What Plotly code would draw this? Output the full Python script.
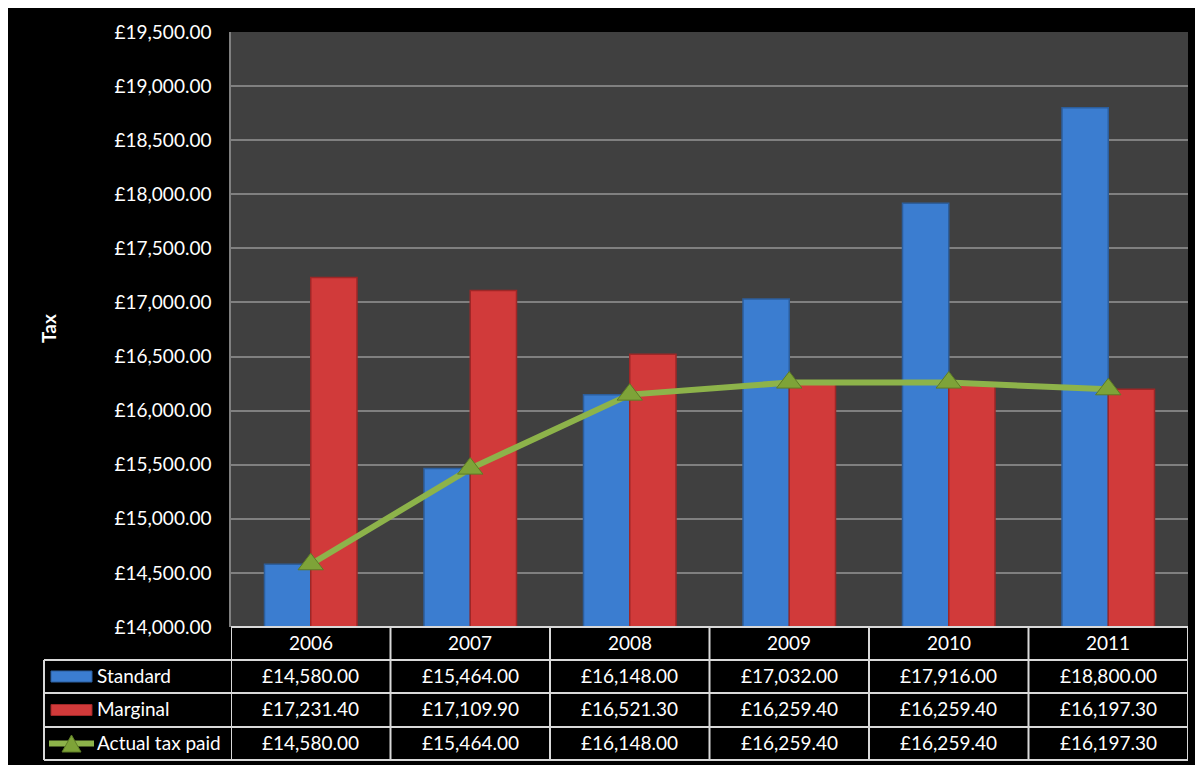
import plotly.graph_objects as go

years = ["2006", "2007", "2008", "2009", "2010", "2011"]
standard = [14580.00, 15464.00, 16148.00, 17032.00, 17916.00, 18800.00]
marginal = [17231.40, 17109.90, 16521.30, 16259.40, 16259.40, 16197.30]
actual = [14580.00, 15464.00, 16148.00, 16259.40, 16259.40, 16197.30]
series_names = ["Standard", "Marginal", "Actual tax paid"]
y_title = "Tax"

W, H = 1203, 765
OFF = 7  # page offset of the figure inside the browser window
SL, SR, ST, SB = 230, 1187, 31, 626
L, R, T, B = SL - OFF, SR - OFF, ST - OFF, SB - OFF
PW, PH = R - L, B - T


def px(x):
    return (x - OFF - L) / PW


def py(y):
    return (B - (y - OFF)) / PH


BLUE = "#3b7dd0"
BLUE_EDGE = "#2c5e9c"
RED = "#d13a3a"
RED_EDGE = "#9e2727"
GREEN = "#8db34a"
GREEN_MK = "#7ea338"
FONT = "Lato"

fig = go.Figure()
fig.add_trace(go.Bar(x=years, y=standard, name=series_names[0],
                     marker=dict(color=BLUE, line=dict(color=BLUE_EDGE, width=1.5))))
fig.add_trace(go.Bar(x=years, y=marginal, name=series_names[1],
                     marker=dict(color=RED, line=dict(color=RED_EDGE, width=1.5))))
fig.add_trace(go.Scatter(x=years, y=actual, name=series_names[2], mode="lines+markers",
                         line=dict(color=GREEN, width=6),
                         marker=dict(symbol="triangle-up", size=22, color=GREEN_MK,
                                     line=dict(color="#5e7c26", width=1))))

shapes = []
annotations = []

TL = "#d9d9d9"
row_y = [626, 659, 692, 726, 759]
shapes.append(dict(type="line", xref="paper", yref="paper", x0=px(SL), x1=px(SR), y0=py(626), y1=py(626),
                   line=dict(color=TL, width=2)))
for yy in row_y[1:]:
    shapes.append(dict(type="line", xref="paper", yref="paper", x0=px(43), x1=px(SR), y0=py(yy), y1=py(yy),
                       line=dict(color=TL, width=2)))
shapes.append(dict(type="line", xref="paper", yref="paper", x0=px(43), x1=px(43), y0=py(659), y1=py(759),
                   line=dict(color=TL, width=2)))
for i in range(len(years) + 1):
    shapes.append(dict(type="line", xref="x", yref="paper", x0=i - 0.5, x1=i - 0.5, y0=py(626), y1=py(759),
                       line=dict(color=TL, width=2)))

TF = dict(family=FONT, size=19, color="white")
for i, yr in enumerate(years):
    annotations.append(dict(x=i, xref="x", y=py(641), yref="paper", text=yr, showarrow=False,
                            xanchor="center", yanchor="middle", font=TF))
rows = [standard, marginal, actual]
centers = [674, 707.5, 741]
for vals, cy in zip(rows, centers):
    for i, v in enumerate(vals):
        annotations.append(dict(x=i, xref="x", y=py(cy), yref="paper", text=f"£{v:,.2f}",
                                showarrow=False, xanchor="center", yanchor="middle", font=TF))
for name, cy in zip(series_names, centers):
    annotations.append(dict(x=px(94), xref="paper", y=py(cy), yref="paper", text=name, showarrow=False,
                            xanchor="left", yanchor="middle", font=TF))
shapes.append(dict(type="rect", xref="paper", yref="paper", x0=px(50), x1=px(91), y0=py(670), y1=py(681),
                   fillcolor=BLUE, line=dict(color=BLUE_EDGE, width=1)))
shapes.append(dict(type="rect", xref="paper", yref="paper", x0=px(50), x1=px(91), y0=py(703.5), y1=py(714.5),
                   fillcolor=RED, line=dict(color=RED_EDGE, width=1)))
shapes.append(dict(type="line", xref="paper", yref="paper", x0=px(48), x1=px(93), y0=py(742.5), y1=py(742.5),
                   line=dict(color=GREEN, width=6)))
shapes.append(dict(type="path", xref="paper", yref="paper",
                   path=f"M {px(61)},{py(751)} L {px(80)},{py(751)} L {px(70.5)},{py(734)} Z",
                   fillcolor=GREEN_MK, line=dict(color="#5e7c26", width=1)))

annotations.append(dict(x=px(47), xref="paper", y=py(328), yref="paper", text=f"<b>{y_title}</b>",
                        textangle=-90, showarrow=False, xanchor="center", yanchor="middle",
                        font=dict(family=FONT, size=19, color="white")))

fig.update_layout(
    width=W, height=H,
    margin=dict(l=L, r=W - R, t=T, b=H - B, pad=0),
    paper_bgcolor="black", plot_bgcolor="#404040",
    barmode="group", bargap=0.42, bargroupgap=0,
    showlegend=False,
    shapes=shapes, annotations=annotations,
    font=dict(family=FONT, color="white"),
)
fig.update_xaxes(type="category", range=[-0.5, 5.5], showticklabels=False, showgrid=False,
                 zeroline=False, showline=False, ticks="")
fig.update_yaxes(range=[14000, 19500], dtick=500, tick0=14000, tickprefix="£", tickformat=",.2f",
                 showgrid=True, gridcolor="#808080", gridwidth=1.5, zeroline=False,
                 showline=True, linecolor="#808080", linewidth=1.5,
                 ticks="", ticklabelstandoff=14, tickfont=dict(family=FONT, size=19, color="white"))

fig.write_html("out.html")
